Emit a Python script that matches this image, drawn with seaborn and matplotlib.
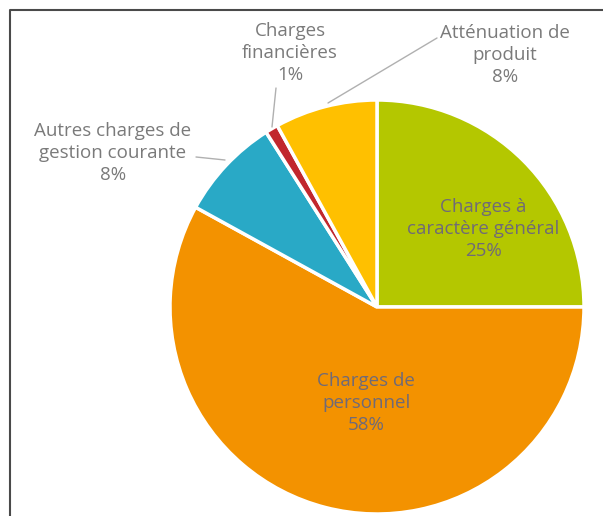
import matplotlib
matplotlib.use("Agg")
import matplotlib.pyplot as plt
import seaborn as sns

# Budget breakdown (percent), clockwise from the top
categories = [
    "Charges à\ncaractère général",
    "Charges de\npersonnel",
    "Autres charges de\ngestion courante",
    "Charges\nfinancières",
    "Atténuation de\nproduit",
]
shares = [25, 58, 8, 1, 8]
colors = ["#B4C700", "#F39200", "#29A9C6", "#C1272D", "#FFC000"]

sns.set_theme(style="white")
plt.rcParams["font.family"] = ["Open Sans", "DejaVu Sans"]

W, H = 603, 516
fig = plt.figure(figsize=(W / 100, H / 100), dpi=100)
ax = fig.add_axes([0, 0, 1, 1])

cx, cy, r = 377, H - 307, 207
wedges, _ = ax.pie(
    shares,
    colors=colors,
    startangle=90,
    counterclock=False,
    center=(cx, cy),
    radius=r,
    wedgeprops=dict(edgecolor="white", linewidth=2.5),
    frame=True,
)
ax.set_xlim(0, W)
ax.set_ylim(0, H)
ax.set_aspect("equal")
ax.axis("off")

label_color = "#7a7a7a"
inner_color = "#6f6a78"
fs = 13.5

# label centres in px from the top-left corner
label_pos = [
    (483, 229, inner_color),
    (366, 403, inner_color),
    (113, 153, label_color),
    (290, 53, label_color),
    (505, 55, label_color),
]
for name, pct, (x, y, c) in zip(categories, shares, label_pos):
    ax.text(x, H - y, f"{name}\n{pct}%", ha="center", va="center",
            fontsize=fs, color=c, linespacing=1.3)

# leader lines
lc = "#b0b0b0"
ax.plot([437, 328], [H - 38, H - 103], color=lc, lw=1)
ax.plot([276, 272], [H - 88, H - 127], color=lc, lw=1)
ax.plot([196, 225], [H - 157, H - 160], color=lc, lw=1)

# frame around the chart
ax.plot([10, 10, W], [0, H - 10, H - 10], color="#4a4a4a", lw=1.5)

fig.savefig("out.png", dpi=100, facecolor="white")
